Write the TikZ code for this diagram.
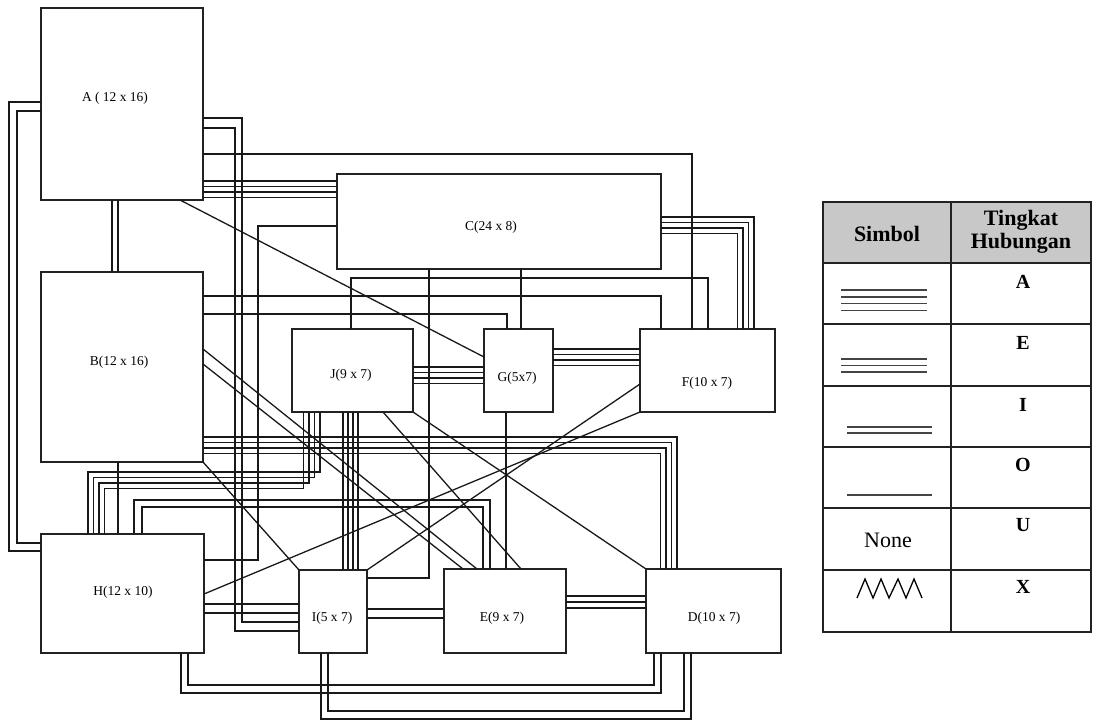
\documentclass[tikz,border=0pt]{standalone}
\usepackage{fontspec}
\setmainfont{Liberation Serif}
\usetikzlibrary{calc}
\definecolor{boxline}{HTML}{222222}
\definecolor{headgray}{HTML}{C8C8C8}
\definecolor{symgray}{HTML}{444444}

\begin{document}
\begin{tikzpicture}[x=1pt, y=-1pt,
    room/.style={draw=boxline, line width=1.4pt, fill=white, inner sep=0pt, outer sep=0pt},
    tag/.style={font=\fontsize{13.5}{15}\selectfont, inner sep=0pt},
    rel/.style={line width=1.3pt, black!90},
    head/.style={font=\fontsize{22}{23}\selectfont\bfseries, inner sep=0pt, align=center},
    grade/.style={font=\fontsize{20}{22}\selectfont\bfseries, inner sep=0pt},
    sym/.style={line width=1.8pt, symgray}]
  \useasboundingbox (0,0) rectangle (1097,720);

  % rooms
  \node[room, minimum width=162pt, minimum height=192pt] (A) at (122,104) {};
  \node[room, minimum width=162pt, minimum height=190pt] (B) at (122,367) {};
  \node[room, minimum width=324pt, minimum height=95pt] (C) at (499,221.5) {};
  \node[room, minimum width=121pt, minimum height=83pt] (J) at (352.5,370.5) {};
  \node[room, minimum width=69pt, minimum height=83pt] (G) at (518.5,370.5) {};
  \node[room, minimum width=135pt, minimum height=83pt] (F) at (707.5,370.5) {};
  \node[room, minimum width=163pt, minimum height=119pt] (H) at (122.5,593.5) {};
  \node[room, minimum width=68pt, minimum height=83pt] (I) at (333,611.5) {};
  \node[room, minimum width=122pt, minimum height=84pt] (E) at (505,611) {};
  \node[room, minimum width=135pt, minimum height=84pt] (D) at (713.5,611) {};

  \node[tag] (A-lbl) at (115,98) {A ( 12 x 16)};
  \node[tag] (B-lbl) at (119,362) {B(12 x 16)};
  \node[tag] (C-lbl) at (491,227) {C(24 x 8)};
  \node[tag] (J-lbl) at (351,375) {J(9 x 7)};
  \node[tag] (G-lbl) at (517,378) {G(5x7)};
  \node[tag] (F-lbl) at (707,383) {F(10 x 7)};
  \node[tag] (H-lbl) at (123,592) {H(12 x 10)};
  \node[tag] (I-lbl) at (332,618) {I(5 x 7)};
  \node[tag] (E-lbl) at (502,618) {E(9 x 7)};
  \node[tag] (D-lbl) at (714,618) {D(10 x 7)};

  % A relations (4 lines)
  \foreach \y in {181,186.5,192,197.5}
    \draw[rel] (A.east |- 0,\y) -- (C.west |- 0,\y);
  \foreach \y/\x in {217/754, 222.5/748.5, 228/743, 233.5/737.5}
    \draw[rel] (C.east |- 0,\y) -| (F.north -| \x,0);
  \foreach \y in {367,372.5,378,383.5}
    \draw[rel] (J.east |- 0,\y) -- (G.west |- 0,\y);
  \foreach \y in {349,354.5,360,365.5}
    \draw[rel] (G.east |- 0,\y) -- (F.west |- 0,\y);
  \foreach \xa/\y/\xb in {88/472/320, 93.5/477.5/314.5, 99/483/309, 104.5/488.5/303.5}
    \draw[rel] (H.north -| \xa,0) |- (\xb,\y) -- (J.south -| \xb,0);
  \foreach \x in {343,348,353,358}
    \draw[rel] (J.south -| \x,0) -- (I.north -| \x,0);
  \foreach \y/\x in {437/677, 442.5/671.5, 448/666, 453.5/660.5}
    \draw[rel] (B.east |- 0,\y) -| (D.north -| \x,0);

  % E relations (3 lines)
  \foreach \y in {596,602,608}
    \draw[rel] (E.east |- 0,\y) -- (D.west |- 0,\y);

  % I relations (2 lines)
  \foreach \x/\ya/\yb in {9/102/551, 17/111/543}
    \draw[rel] (A.west |- 0,\ya) -- (\x,\ya) -- (\x,\yb) -- (H.west |- 0,\yb);
  \foreach \x in {112,118}
    \draw[rel] (A.south -| \x,0) -- (B.north -| \x,0);
  \foreach \ya/\x/\yb in {118/242/622, 128/235/631}
    \draw[rel] (A.east |- 0,\ya) -- (\x,\ya) -- (\x,\yb) -- (I.west |- 0,\yb);
  \draw[rel] (B.east |- 0,349) -- (E.north -| 477,0);
  \draw[rel] (B.east |- 0,364) -- (E.north -| 463,0);
  \foreach \xa/\y/\xb in {134/500/490, 142/507/483}
    \draw[rel] (H.north -| \xa,0) |- (\xb,\y) -- (E.north -| \xb,0);
  \foreach \y in {609,618}
    \draw[rel] (I.east |- 0,\y) -- (E.west |- 0,\y);
  \foreach \y in {604,613}
    \draw[rel] (H.east |- 0,\y) -- (I.west |- 0,\y);
  \foreach \xa/\y/\xb in {181/693/661, 188/685/654}
    \draw[rel] (H.south -| \xa,0) |- (\xb,\y) -- (D.south -| \xb,0);
  \foreach \xa/\y/\xb in {321/719/691, 328/711/684}
    \draw[rel] (I.south -| \xa,0) |- (\xb,\y) -- (D.south -| \xb,0);

  % O relations (1 line)
  \draw[rel] (A.east |- 0,154) -| (F.north -| 692,0);
  \draw[rel] (A.south -| 180,0) -- (G.west |- 0,357);
  \draw[rel] (C.south -| 521,0) -- (G.north -| 521,0);
  \draw[rel] (C.south -| 429,0) |- (I.east |- 0,578);
  \draw[rel] (C.west |- 0,226) -| (258,560) -- (H.east |- 0,560);
  \draw[rel] (B.east |- 0,296) -| (F.north -| 661,0);
  \draw[rel] (B.east |- 0,314) -| (G.north -| 507,0);
  \draw[rel] (J.north -| 351,0) -- (351,278) -- (708,278) -- (F.north -| 708,0);
  \draw[rel] (G.south -| 506,0) -- (E.north -| 506,0);
  \draw[rel] (B.south -| 118,0) -- (H.north -| 118,0);
  \draw[rel] (H.east |- 0,594) -- (F.south west);
  \draw[rel] (I.north east) -- (F.west |- 0,384);
  \draw[rel] (B.south east) -- (I.north west);
  \draw[rel] (J.south -| 383,0) -- (E.north -| 521,0);
  \draw[rel] (J.south east) -- (D.north west);

  % legend
  \fill[headgray] (823,202) rectangle (1091,263);
  \draw[line width=1.4pt, boxline] (823,202) rectangle (1091,632);
  \draw[line width=1.4pt, boxline] (951,202) -- (951,632);
  \foreach \y in {263,324,386,447,508,570}
    \draw[line width=1.4pt, boxline] (823,\y) -- (1091,\y);
  \node[head] (simbol) at (887,234) {Simbol};
  \node[head] (tingkat) at (1021,232) {Tingkat\\Hubungan};
  \foreach \y/\g in {282/A, 343/E, 405/I, 465/O, 525/U, 587/X}
    \node[grade] (grade-\g) at (1023,\y) {\g};
  \foreach \y in {290,297,303.5,310.5}
    \draw[sym] (841,\y) -- (927,\y);
  \foreach \y in {359,365.5,372}
    \draw[sym] (841,\y) -- (927,\y);
  \foreach \y in {427,433}
    \draw[sym] (847,\y) -- (932,\y);
  \draw[sym] (847,495) -- (932,495);
  \node[font=\fontsize{22}{24}\selectfont, inner sep=0pt] (none) at (888,540) {None};
  \draw[line width=1.3pt, black] (857,598) -- (865,579) -- (873,598) -- (881,579) -- (889,598)
    -- (898,579) -- (906,598) -- (914,579) -- (922,598);
\end{tikzpicture}
\end{document}
